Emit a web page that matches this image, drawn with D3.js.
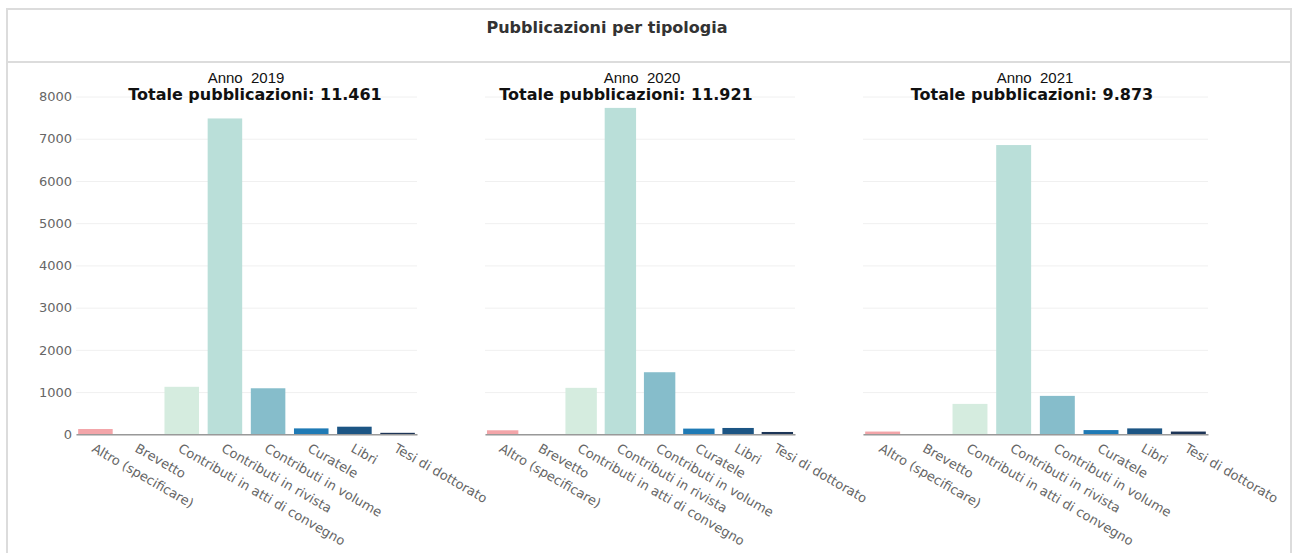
<!DOCTYPE html>
<html>
<head>
<meta charset="utf-8">
<script src="https://cdn.jsdelivr.net/npm/d3@7"></script>
<style>
  html, body { margin: 0; padding: 0; background: #fff; }
  svg { display: block; }
</style>
</head>
<body>
<svg id="chart" width="1295" height="553"></svg>
<script>
// ---- data ----
const categories = [
  "Altro (specificare)", "Brevetto", "Contributi in atti di convegno",
  "Contributi in rivista", "Contributi in volume", "Curatele", "Libri", "Tesi di dottorato"
];
const years = ["2019", "2020", "2021"];
const totals = ["11.461", "11.921", "9.873"];
const values2019 = [125, 3, 1125, 7480, 1090, 140, 180, 35];
const values2020 = [95, 3, 1100, 7730, 1470, 135, 150, 55];
const values2021 = [65, 3, 720, 6850, 910, 100, 140, 65];
const yTicks = [0, 1000, 2000, 3000, 4000, 5000, 6000, 7000, 8000];
const chartTitle = "Pubblicazioni per tipologia";
const colors = ["#f3a5a9", "#e2cfe0", "#d5ecdf", "#badfd9", "#86bdcb", "#1f7ab5", "#1c5584", "#1d3557"];

// ---- layout ----
const panelRanges = [[76, 417], [485, 795], [863, 1208]];
const annoX = [246, 642, 1035];
const totX = [255, 626, 1032];
const yTop = 96.5, yBottom = 434.3;

const svg = d3.select("#chart");

// frame
svg.append("rect").attr("x", 7).attr("y", 9).attr("width", 1284).attr("height", 560)
  .attr("fill", "#fff").attr("stroke", "#dcdcdc").attr("stroke-width", 2);
svg.append("line").attr("x1", 7).attr("x2", 1291).attr("y1", 62).attr("y2", 62)
  .attr("stroke", "#dcdcdc").attr("stroke-width", 2);

svg.append("text").attr("x", 607).attr("y", 33).attr("text-anchor", "middle")
  .attr("font-family", "DejaVu Sans, Verdana, sans-serif").attr("font-weight", "bold")
  .attr("font-size", 16).attr("fill", "#333").text(chartTitle);

const y = d3.scaleLinear().domain([0, 8000]).range([yBottom, yTop]);
const series = [values2019, values2020, values2021];

series.forEach((vals, i) => {
  const [x0, x1] = panelRanges[i];
  const x = d3.scaleBand().domain(categories).range([x0, x1]).paddingInner(0.2).paddingOuter(0.05);
  const g = svg.append("g");

  // gridlines
  const grid = g.append("g").call(d3.axisLeft(y).tickValues(yTicks).tickSize(-(x1 - x0)).tickFormat(i === 0 ? d3.format("d") : ""))
    .attr("transform", `translate(${x0},0)`);
  grid.select(".domain").remove();
  grid.selectAll(".tick line").attr("stroke", "#f0f0f0").attr("stroke-width", 1);
  grid.selectAll(".tick text").attr("font-family", "DejaVu Sans, Verdana, sans-serif")
    .attr("font-size", 13).attr("fill", "#666").attr("x", -4);

  // bars
  g.selectAll("rect.bar").data(vals).join("rect").attr("class", "bar")
    .attr("x", (d, j) => x(categories[j]))
    .attr("width", x.bandwidth())
    .attr("y", d => y(d))
    .attr("height", d => yBottom - y(d))
    .attr("fill", (d, j) => colors[j]);

  // x axis
  const xa = g.append("g").attr("transform", `translate(0,${yBottom})`)
    .call(d3.axisBottom(x).tickSize(0).tickSizeOuter(0));
  xa.select(".domain").attr("stroke", "#999").attr("stroke-width", 1.5);
  xa.selectAll(".tick text")
    .attr("font-family", "DejaVu Sans, Verdana, sans-serif").attr("font-size", 13).attr("fill", "#666")
    .attr("text-anchor", "start")
    .attr("x", 0).attr("y", 0).attr("dy", "0.85em")
    .attr("transform", "translate(1,7) rotate(30)");

  // panel titles
  svg.append("text").attr("x", annoX[i]).attr("y", 83).attr("text-anchor", "middle")
    .attr("font-family", "Liberation Sans, Arial, sans-serif").attr("font-size", 15).attr("fill", "#111")
    .style("white-space", "pre")
    .text("Anno  " + years[i]);
  svg.append("text").attr("x", totX[i]).attr("y", 100).attr("text-anchor", "middle")
    .attr("font-family", "DejaVu Sans, Verdana, sans-serif").attr("font-weight", "bold")
    .attr("font-size", 16).attr("fill", "#111")
    .text("Totale pubblicazioni: " + totals[i]);
});
</script>
</body>
</html>
